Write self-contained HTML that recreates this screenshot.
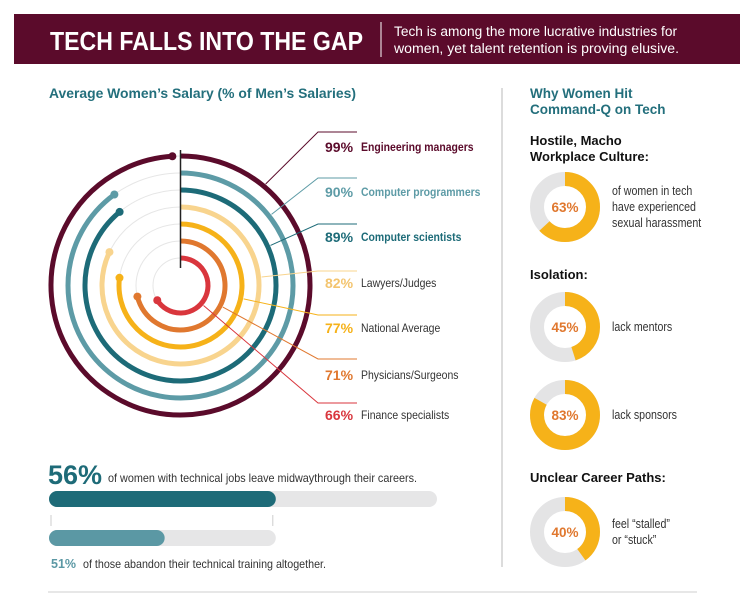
<!DOCTYPE html>
<html><head><meta charset="utf-8"><style>
html,body{margin:0;padding:0;background:#fff;}
svg{display:block;font-family:"Liberation Sans",Arial,sans-serif;}
</style></head><body>
<svg id="chart" width="749" height="599" viewBox="0 0 749 599" xmlns="http://www.w3.org/2000/svg">
<rect x="14" y="14" width="726" height="50" fill="#5b0b2b"/>
<text x="50" y="50" fill="#fff" font-size="26" font-weight="bold" textLength="313" lengthAdjust="spacingAndGlyphs">TECH FALLS INTO THE GAP</text>
<line x1="381" y1="22" x2="381" y2="57" stroke="#fff" stroke-width="1"/>
<text x="394" y="36" fill="#fff" font-size="13.5" textLength="283" lengthAdjust="spacingAndGlyphs">Tech is among the more lucrative industries for</text>
<text x="394" y="53" fill="#fff" font-size="13.5" textLength="285" lengthAdjust="spacingAndGlyphs">women, yet talent retention is proving elusive.</text>
<text x="49" y="98" fill="#236f7c" font-size="13.5" font-weight="bold" textLength="307" lengthAdjust="spacingAndGlyphs">Average Women’s Salary (% of Men’s Salaries)</text>
<line x1="502" y1="88" x2="502" y2="567" stroke="#dcdcdc" stroke-width="2"/>
<line x1="48" y1="592" x2="697" y2="592" stroke="#cfcfcf" stroke-width="1"/>
<g id="rings"></g>
<g id="bars"></g>
<text x="530" y="98" fill="#236f7c" font-size="13.5" font-weight="bold">Why Women Hit</text>
<text x="530" y="114" fill="#236f7c" font-size="13.5" font-weight="bold">Command-Q on Tech</text>
<g id="donuts"></g>
</svg>
<script>
const NS="http://www.w3.org/2000/svg";
// Radial salary data
const categories=["Engineering managers","Computer programmers","Computer scientists","Lawyers/Judges","National Average","Physicians/Surgeons","Finance specialists"];
const salaryPct=[99,90,89,82,77,71,66];
const ringColors=["#5b0b2b","#5d9ba6","#1d6b78","#f8d48e","#f6b219","#e0782f","#d9363d"];
const boldName=[true,true,true,false,false,false,false];
const leaderAngle=[40,52,66,84,102,117,131];
// Bars data
const barPct=[56,51];
// Donut data
const donutPct=[63,45,83,40];
const donutLabels=[["of women in tech","have experienced","sexual harassment"],["lack mentors"],["lack sponsors"],["feel “stalled”","or “stuck”"]];

function mk(tag,attrs,parent){const e=document.createElementNS(NS,tag);for(const k in attrs)e.setAttribute(k,attrs[k]);parent.appendChild(e);return e;}
function squeeze(e,f){const l=e.getComputedTextLength();e.setAttribute('textLength',(l*f).toFixed(1));e.setAttribute('lengthAdjust','spacingAndGlyphs');}
const cx=180.5,cy=285.5,r0=129.5,step=17;
const rr=i=>r0-i*step;
const pt=(r,deg)=>{const a=deg*Math.PI/180;return [cx+r*Math.sin(a),cy-r*Math.cos(a)];};
const rings=document.getElementById('rings');
salaryPct.forEach((v,i)=>{
  const r=rr(i);
  const g=mk('circle',{cx:cx,cy:cy,r:r,fill:'none',stroke:'#e6e6e6','stroke-width':1},rings);
  
  
});
const labelY=[147,192,237,283,328,375,415];
const lineY=[132,178,224,271,315,359,403];
salaryPct.forEach((v,i)=>{
  const r=rr(i);const ang=v/100*360;
  const [x1,y1]=pt(r,0),[x2,y2]=pt(r,ang);
  const large=ang>180?1:0;
  const p=mk('path',{d:`M${x1},${y1} A${r},${r} 0 ${large} 1 ${x2},${y2}`,fill:'none',stroke:ringColors[i],'stroke-width':5},rings);
  
  
  const d=mk('circle',{cx:x2,cy:y2,r:4,fill:ringColors[i]},rings);
  
  
  const [lx,ly]=pt(r+3,leaderAngle[i]);
  const l=mk('polyline',{points:`${lx},${ly} 318,${lineY[i]} 357,${lineY[i]}`,fill:'none',stroke:ringColors[i],'stroke-width':1},rings);
  
  
  const tc=i==3?'#f3c46e':ringColors[i];
  const t=mk('text',{x:325,y:labelY[i]+5,fill:tc,'font-size':14,'font-weight':'bold'},rings);
  t.textContent=v+'%';
  
  
  const n=mk('text',{x:361,y:labelY[i]+4,fill:boldName[i]?ringColors[i]:'#333','font-size':12,'font-weight':boldName[i]?'bold':'normal'},rings);
  n.textContent=categories[i];
  
  
  squeeze(n,0.87);
});
const vl=mk('line',{x1:cx,y1:150,x2:cx,y2:268,stroke:'#222','stroke-width':1.5},rings);



// Bars
const bars=document.getElementById('bars');
const x0=49,trackW=388,scale=405;
function bar(y,w,bgW,col,name){
  const b=mk('rect',{x:x0,y:y,width:bgW,height:16,rx:8,fill:'#e6e6e7'},bars);
  
  
  const f=mk('rect',{x:x0,y:y,width:w,height:16,rx:8,fill:col},bars);
  
  
}
const w1=barPct[0]/100*scale;
bar(491,w1,trackW,'#1e6b78','leave-midway-bar');
bar(530,barPct[1]/100*w1,w1,'#5b98a4','abandon-training-bar');
[51,x0+w1-3].forEach(x=>{const t=mk('line',{x1:x,y1:515,x2:x,y2:526,stroke:'#ccc','stroke-width':1},bars);});
let t=mk('text',{x:48,y:484,fill:'#1e6b78','font-size':27,'font-weight':'bold'},bars);t.textContent=barPct[0]+'%';

t=mk('text',{x:108,y:482,fill:'#333','font-size':12,textLength:309,lengthAdjust:'spacingAndGlyphs'},bars);t.textContent='of women with technical jobs leave midwaythrough their careers.';

t=mk('text',{x:51,y:568,fill:'#5b98a4','font-size':12.5,'font-weight':'bold'},bars);t.textContent=barPct[1]+'%';

t=mk('text',{x:83,y:568,fill:'#333','font-size':12,textLength:243,lengthAdjust:'spacingAndGlyphs'},bars);t.textContent='of those abandon their technical training altogether.';


// Donuts
const dons=document.getElementById('donuts');
const heads=[["Hostile, Macho","Workplace Culture:"],["Isolation:"],null,["Unclear Career Paths:"]];
const headY=[145,279,null,482];
const dcy=[207,327,415,532];
const dcx=565,dr=28;
heads.forEach((h,i)=>{if(!h)return;h.forEach((s,j)=>{const e=mk('text',{x:530,y:headY[i]+j*16,fill:'#111','font-size':13,'font-weight':'bold'},dons);e.textContent=s;});});
donutPct.forEach((v,i)=>{
  const cy2=dcy[i];
  const bg=mk('circle',{cx:dcx,cy:cy2,r:dr,fill:'none',stroke:'#e4e4e5','stroke-width':14},dons);
  
  const C=2*Math.PI*dr;
  const f=mk('circle',{cx:dcx,cy:cy2,r:dr,fill:'none',stroke:'#f6b219','stroke-width':14,'stroke-dasharray':`${v/100*C} ${C}`,transform:`rotate(-90 ${dcx} ${cy2})`},dons);
  
  const tt=mk('text',{x:dcx,y:cy2+5,'text-anchor':'middle',fill:'#e0782f','font-size':13.5,'font-weight':'bold'},dons);tt.textContent=v+'%';
  
  const L=donutLabels[i];const sy=cy2+4-(L.length-1)*8;
  L.forEach((s,j)=>{const e=mk('text',{x:612,y:sy+j*16,fill:'#333','font-size':12.5},dons);e.textContent=s;squeeze(e,0.85);});
});
</script>
</body></html>
